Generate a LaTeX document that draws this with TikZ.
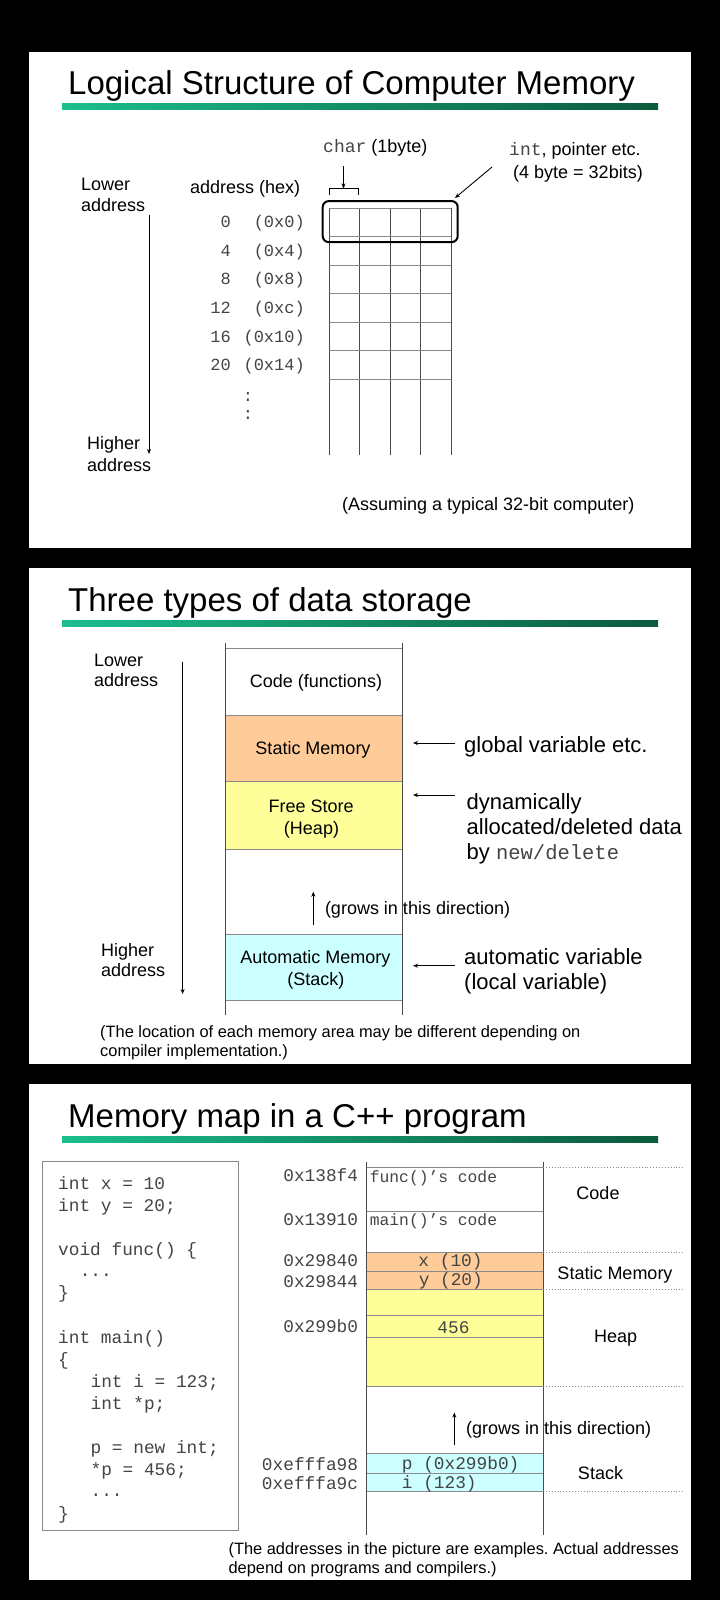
\documentclass[tikz,border=0pt]{standalone}
\usepackage{fontspec}
\setmainfont{Liberation Sans}
\setmonofont{Liberation Mono}
\usetikzlibrary{arrows.meta}
\frenchspacing
\definecolor{mgray}{HTML}{444444}
\definecolor{vgray}{HTML}{4A4A4A}
\definecolor{hgray}{HTML}{8A8A8A}
\definecolor{peach}{HTML}{FFCC99}
\definecolor{lyel}{HTML}{FFFF99}
\definecolor{lcyan}{HTML}{CCFFFF}
\definecolor{ulA}{HTML}{1BBE8E}
\definecolor{ulB}{HTML}{0B5A3C}
\tikzset{
  ttl/.style={anchor=base west, inner sep=0pt, font=\fontsize{33}{36}\selectfont},
  tx/.style={inner sep=0pt, font=\fontsize{18}{21}\selectfont},
  bg/.style={inner sep=0pt, anchor=base west, font=\fontsize{22}{25}\selectfont},
  ft/.style={anchor=base west, inner sep=0pt, font=\fontsize{16.4}{20}\selectfont},
  mn/.style={inner sep=0pt, font=\ttfamily\fontsize{17.8}{21}\selectfont, text=mgray},
  mna/.style={inner sep=0pt, font=\ttfamily\fontsize{17}{21}\selectfont, text=mgray},
  mns/.style={inner sep=0pt, font=\ttfamily\fontsize{16.3}{20}\selectfont, text=mgray},
  arr/.style={-{Stealth[length=5pt,width=4pt]}, line width=0.9pt, draw=black},
  col/.style={draw=vgray, line width=1pt},
  hl/.style={draw=hgray, line width=0.9pt},
  dl/.style={draw=hgray, dotted, line width=0.9pt},
  vgrid/.style={draw=vgray, line width=0.9pt},
  hgrid/.style={draw=hgray, line width=0.9pt}
}
\begin{document}
\begin{tikzpicture}[x=1pt,y=-1pt]
\useasboundingbox (0,0) rectangle (720,1600);
\fill[black] (0,0) rectangle (720,1600);
\fill[white] (29,52) rectangle (691,548);
\fill[white] (29,568) rectangle (691,1064);
\fill[white] (29,1084) rectangle (691,1580);

% ---------------- Panel 1 ----------------
\node[ttl] (t1) at (68,95) {Logical Structure of Computer Memory};
\shade[left color=ulA,right color=ulB] (62,104) rectangle (658,110);

\node[tx,anchor=base west] (low1a) at (81,190) {Lower};
\node[tx,anchor=base west] (low1b) at (81,211.7) {address};
\node[tx,anchor=base west] (hi1a) at (87,449) {Higher};
\node[tx,anchor=base west] (hi1b) at (87,471) {address};
\coordinate (a1s) at (149,215);
\coordinate (a1e) at (149,454);
\draw[arr] (a1s) -- (a1e);

\node[tx,anchor=base west] (addrhex) at (190,193) {address (hex)};
\foreach \n/\h [count=\i from 0] in {0/(0x0),4/(0x4),8/(0x8),12/(0xc),16/(0x10),20/(0x14)} {
  \node[mna,anchor=base east] (dec\i) at (231,227.7+28.6*\i) {\n};
  \node[mna,anchor=base east] (hex\i) at (305,227.7+28.6*\i) {\h};
}
\node[mna] (dotsA) at (248,397) {:};
\node[mna] (dotsB) at (248,415) {:};

\foreach \x in {329,359.5,390,420.5,451} \draw[vgrid] (\x,208) -- (\x,455);
\foreach \k in {0,...,6} \draw[hgrid] (329,208+28.5*\k) -- (451,208+28.5*\k);
\node[draw, line width=2pt, rounded corners=6pt, minimum width=135pt, minimum height=41pt, inner sep=0pt] (word) at (390.2,221.6) {};

\draw[line width=0.9pt] (329,195) -- (329,188.5) -- (358,188.5) -- (358,195);
\coordinate (brk) at (343.5,188.5);
\coordinate (chs) at (343.5,166);
\draw[arr] (chs) -- (brk);
\node[tx,anchor=base west] (charlbl) at (323,153) {{\ttfamily\color{mgray}char} (1byte)};
\node[tx,anchor=base west] (intlbl) at (509,155) {{\ttfamily\color{mgray}int}, pointer etc.};
\node[tx,anchor=base west] (intlblb) at (513,178) {(4 byte = 32bits)};
\coordinate (ia) at (492,167);
\coordinate (ib) at (455,198);
\draw[arr] (ia) -- (ib);
\node[tx,anchor=base west] (assume) at (342,510) {(Assuming a typical 32-bit computer)};

% ---------------- Panel 2 ----------------
\node[ttl] (t2) at (68,611) {Three types of data storage};
\shade[left color=ulA,right color=ulB] (62,620) rectangle (658,626);

\fill[peach] (225.7,715) rectangle (402.3,781.7);
\fill[lyel] (225.7,781.7) rectangle (402.3,849);
\fill[lcyan] (225.7,934) rectangle (402.3,1000.7);
\foreach \y in {648.3,715,781.7,849,934,1000.7} \draw[hl] (225.7,\y) -- (402.3,\y);
\draw[col] (225.7,642.7) -- (225.7,1015);
\draw[col] (402.3,642.7) -- (402.3,1015);

\node[tx,anchor=base] (codef) at (316,687.5) {Code (functions)};
\node[tx,anchor=base] (statm) at (313,754.7) {Static Memory};
\node[tx,anchor=base] (frees) at (311.2,812) {Free Store};
\node[tx,anchor=base] (heapp) at (311.5,834) {(Heap)};
\node[tx,anchor=base] (autom) at (315.4,963) {Automatic Memory};
\node[tx,anchor=base] (stackp) at (315.8,985.5) {(Stack)};

\coordinate (g1s) at (455,743);   \coordinate (g1e) at (413,743);
\coordinate (g2s) at (455,795);   \coordinate (g2e) at (413,795);
\coordinate (g3s) at (455,965.7); \coordinate (g3e) at (413,965.7);
\draw[arr] (g1s) -- (g1e);
\draw[arr] (g2s) -- (g2e);
\draw[arr] (g3s) -- (g3e);
\node[bg] (gv) at (464,752) {global variable etc.};
\node[bg] (dyn1) at (466.5,809) {dynamically};
\node[bg] (dyn2) at (466.5,834) {allocated/deleted data};
\node[bg] (dyn3) at (466.5,859) {by {\ttfamily\color{mgray}\fontsize{20.5}{24}\selectfont new/delete}};
\node[bg] (av1) at (464,964) {automatic variable};
\node[bg] (av2) at (464,989.5) {(local variable)};

\coordinate (gr2s) at (313.3,925);
\coordinate (gr2e) at (313.3,891.7);
\draw[arr] (gr2s) -- (gr2e);
\node[tx,anchor=base west] (grows2) at (324.8,914.5) {(grows in this direction)};

\coordinate (a2s) at (182.6,661.7);
\coordinate (a2e) at (182.6,994);
\draw[arr] (a2s) -- (a2e);
\node[tx,anchor=base west] (low2a) at (94,666) {Lower};
\node[tx,anchor=base west] (low2b) at (94,686.5) {address};
\node[tx,anchor=base west] (hi2a) at (101,956) {Higher};
\node[tx,anchor=base west] (hi2b) at (101,976.5) {address};

\node[ft] (fn2a) at (100,1037) {(The location of each memory area may be different depending on};
\node[ft] (fn2b) at (100,1056) {compiler implementation.)};

% ---------------- Panel 3 ----------------
\node[ttl] (t3) at (68,1127) {Memory map in a C++ program};
\shade[left color=ulA,right color=ulB] (62,1136) rectangle (658,1142);

\node[draw=hgray, line width=0.9pt, minimum width=195.8pt, minimum height=369.7pt, inner sep=0pt] (codebox) at (140.1,1345.85) {};
\node[mn,anchor=base west] (c1) at (58,1189) {int x = 10};
\node[mn,anchor=base west] (c2) at (58,1211) {int y = 20;};
\node[mn,anchor=base west] (c3) at (58,1255) {void func() \{};
\node[mn,anchor=base west] (c4) at (79.6,1276) {...};
\node[mn,anchor=base west] (c5) at (58,1298.5) {\}};
\node[mn,anchor=base west] (c6) at (58,1343) {int main()};
\node[mn,anchor=base west] (c7) at (58,1365) {\{};
\node[mn,anchor=base west] (c8) at (90.4,1387) {int i = 123;};
\node[mn,anchor=base west] (c9) at (90.4,1409) {int *p;};
\node[mn,anchor=base west] (c10) at (90.4,1453) {p = new int;};
\node[mn,anchor=base west] (c11) at (90.4,1475) {*p = 456;};
\node[mn,anchor=base west] (c12) at (90.4,1496) {...};
\node[mn,anchor=base west] (c13) at (58,1519) {\}};

\fill[peach] (366.5,1252.7) rectangle (543,1289);
\fill[lyel] (366.5,1289) rectangle (543,1386);
\fill[lcyan] (366.5,1453.3) rectangle (543,1491.7);
\foreach \y in {1167,1211,1252.7,1271,1289,1315.5,1337.7,1386,1453.3,1473.3,1491.7} \draw[hl] (366.5,\y) -- (543,\y);
\draw[col] (366.5,1161.7) -- (366.5,1535);
\draw[col] (543,1161.7) -- (543,1535);
\foreach \y in {1167,1252.7,1289,1386,1491.7} \draw[dl] (543,\y) -- (685,\y);

\node[mn,anchor=base east] (ad1) at (358.3,1181.5) {0x138f4};
\node[mn,anchor=base east] (ad2) at (358.3,1225.5) {0x13910};
\node[mn,anchor=base east] (ad3) at (358.3,1266.5) {0x29840};
\node[mn,anchor=base east] (ad4) at (358.3,1287.5) {0x29844};
\node[mn,anchor=base east] (ad5) at (358.3,1332.2) {0x299b0};
\node[mn,anchor=base east] (ad6) at (358.3,1470.5) {0xefffa98};
\node[mn,anchor=base east] (ad7) at (358.3,1489.5) {0xefffa9c};

\node[mns,anchor=base west] (fc) at (369.7,1182) {func()’s code};
\node[mns,anchor=base west] (mc) at (369.7,1225.5) {main()’s code};
\node[mn,anchor=base] (xv) at (450.5,1266) {x (10)};
\node[mn,anchor=base] (yv) at (450.8,1285) {y (20)};
\node[mn,anchor=base] (hv) at (453.5,1333) {456};
\node[mn,anchor=base west] (pv) at (401.7,1469) {p (0x299b0)};
\node[mn,anchor=base west] (iv) at (401.7,1488) {i (123)};

\node[tx,anchor=base] (rcode) at (598,1199.3) {Code};
\node[tx,anchor=base] (rstat) at (615,1279) {Static Memory};
\node[tx,anchor=base] (rheap) at (615.6,1342.3) {Heap};
\node[tx,anchor=base] (rstack) at (600.5,1479) {Stack};

\coordinate (gr3s) at (454.3,1445);
\coordinate (gr3e) at (454.3,1412.5);
\draw[arr] (gr3s) -- (gr3e);
\node[tx,anchor=base west] (grows3) at (466,1434.3) {(grows in this direction)};

\node[ft] (fn3a) at (228.4,1554.2) {(The addresses in the picture are examples. Actual addresses};
\node[ft] (fn3b) at (228.4,1573.6) {depend on programs and compilers.)};
\end{tikzpicture}
\end{document}
